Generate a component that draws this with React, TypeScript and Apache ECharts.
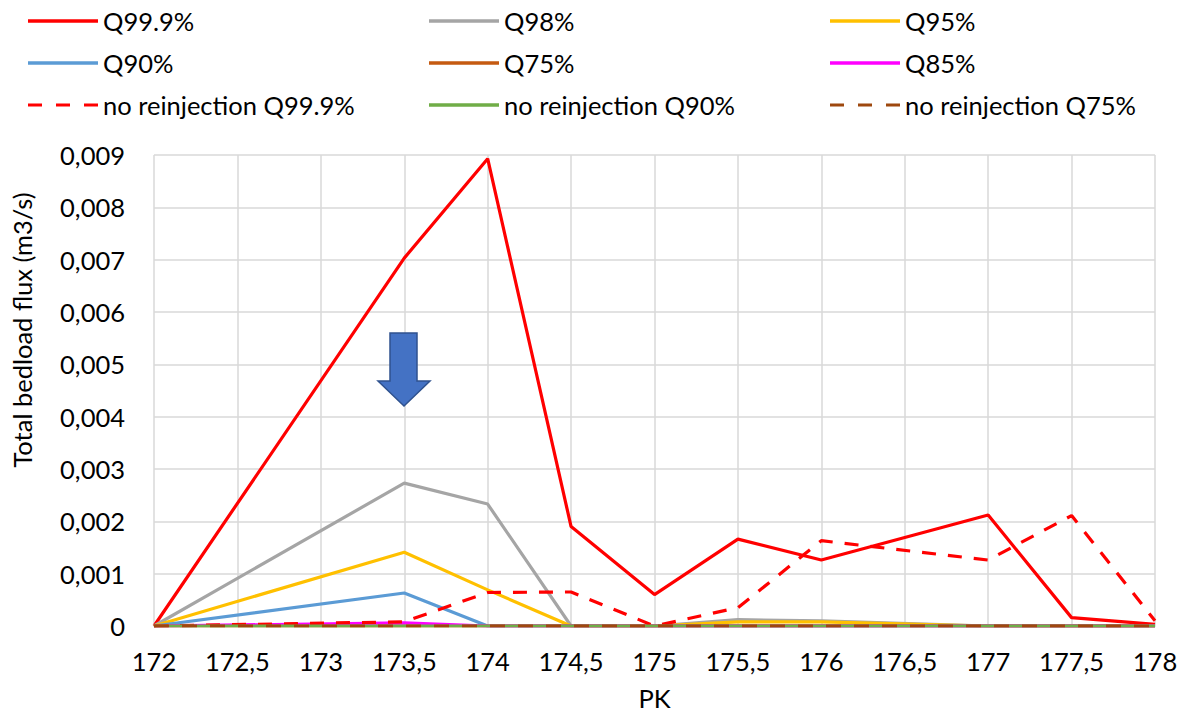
import React, { useEffect, useRef } from "react";
import * as echarts from "echarts";

const pkTicks = [172, 172.5, 173, 173.5, 174, 174.5, 175, 175.5, 176, 176.5, 177, 177.5, 178];

const q999: [number, number][] = [
  [172, 0], [173.5, 0.00703], [174, 0.00893], [174.5, 0.0019], [175, 0.0006],
  [175.5, 0.00166], [176, 0.00126], [177, 0.00212], [177.5, 0.00016], [178, 0.00003],
];
const q98: [number, number][] = [
  [172, 0], [173.5, 0.00273], [174, 0.00233], [174.5, 0], [175, 0],
  [175.5, 0.00012], [176, 0.0001], [177, 0], [177.5, 0], [178, 0],
];
const q95: [number, number][] = [
  [172, 0], [173.5, 0.00141], [174, 0.00069], [174.5, 0], [175, 0],
  [175.5, 0.00008], [176, 0.00008], [177, 0], [177.5, 0], [178, 0],
];
const q90: [number, number][] = [
  [172, 0], [173.5, 0.00063], [174, 0], [174.5, 0], [175, 0],
  [175.5, 0], [176, 0], [177, 0], [177.5, 0], [178, 0],
];
const q75: [number, number][] = [
  [172, 0], [173.5, 0], [174, 0], [174.5, 0], [175, 0],
  [175.5, 0], [176, 0], [177, 0], [177.5, 0], [178, 0],
];
const q85: [number, number][] = [
  [172, 0], [173.5, 0.00006], [174, 0], [174.5, 0], [175, 0],
  [175.5, 0], [176, 0], [177, 0], [177.5, 0], [178, 0],
];
const noQ999: [number, number][] = [
  [172, 0], [173.5, 0.00008], [174, 0.00064], [174.5, 0.00065], [175, 0],
  [175.5, 0.00035], [176, 0.00163], [177, 0.00126], [177.5, 0.00211], [178, 0.0001],
];
const noQ90: [number, number][] = [
  [172, 0], [173.5, 0], [174, 0], [174.5, 0], [175, 0],
  [175.5, 0], [176, 0], [177, 0], [177.5, 0], [178, 0],
];
const noQ75: [number, number][] = [
  [172, 0], [173.5, 0], [174, 0], [174.5, 0], [175, 0],
  [175.5, 0], [176, 0], [177, 0], [177.5, 0], [178, 0],
];

const FONT = "Lato, 'Open Sans', sans-serif";
const FS = 25.5;
const DASH_ICON = "path://M0,0h14v3h-14zM28,0h14v3h-14zM56,0h14v3h-14z";

export default function App() {
  const ref = useRef<HTMLDivElement>(null);
  useEffect(() => {
    if (!ref.current) return;
    const chart = echarts.init(ref.current, undefined, { renderer: "svg" });
    const mk = (name: string, data: [number, number][], color: string, dash?: number[]) => ({
      name,
      type: "line",
      data,
      showSymbol: false,
      symbol: "none",
      lineStyle: { color, width: 3.2, type: dash ? dash : "solid", cap: "butt" },
      itemStyle: { color },
      z: 2,
    });
    const legendCommon = {
      orient: "vertical",
      top: 8,
      padding: 0,
      itemWidth: 70,
      itemHeight: 3.5,
      itemGap: 16,
      icon: "rect",
      textStyle: { fontFamily: FONT, fontSize: FS, lineHeight: 26, color: "#000" },
    };
    chart.setOption({
      animation: false,
      textStyle: { fontFamily: FONT },
      legend: [
        {
          ...legendCommon,
          left: 28,
          data: ["Q99.9%", "Q90%", { name: "no reinjection Q99.9%", icon: DASH_ICON }],
        },
        { ...legendCommon, left: 429, data: ["Q98%", "Q75%", "no reinjection Q90%"] },
        {
          ...legendCommon,
          left: 830,
          data: ["Q95%", "Q85%", { name: "no reinjection Q75%", icon: DASH_ICON }],
        },
      ],
      grid: {
        left: 154,
        right: 28,
        top: 155,
        bottom: 89,
        containLabel: false,
        outerBoundsMode: "none",
      },
      xAxis: {
        type: "value",
        min: pkTicks[0],
        max: pkTicks[pkTicks.length - 1],
        interval: 0.5,
        name: "PK",
        nameLocation: "middle",
        nameGap: 62,
        nameTextStyle: { fontFamily: FONT, fontSize: FS, lineHeight: 20, color: "#000" },
        axisLine: { show: true, lineStyle: { color: "#bfbfbf", width: 1 } },
        axisTick: { show: false },
        axisLabel: {
          fontFamily: FONT,
          fontSize: FS,
          color: "#000",
          margin: 22,
          formatter: (v: number) => String(v).replace(".", ","),
        },
        splitLine: { show: true, lineStyle: { color: "#d9d9d9", width: 1.5 } },
      },
      yAxis: {
        type: "value",
        min: 0,
        max: 0.009,
        interval: 0.001,
        axisLine: { show: false },
        axisTick: { show: false },
        axisLabel: {
          fontFamily: FONT,
          fontSize: FS,
          color: "#000",
          margin: 29,
          formatter: (v: number) => (v === 0 ? "0" : v.toFixed(3).replace(".", ",")),
        },
        splitLine: { show: true, lineStyle: { color: "#d9d9d9", width: 1.5 } },
      },
      series: [
        mk("Q99.9%", q999, "#ff0000"),
        mk("Q98%", q98, "#a5a5a5"),
        mk("Q95%", q95, "#ffc000"),
        mk("Q90%", q90, "#5b9bd5"),
        mk("Q75%", q75, "#c55a11"),
        mk("Q85%", q85, "#ff00ff"),
        mk("no reinjection Q99.9%", noQ999, "#ff0000", [14, 12]),
        mk("no reinjection Q90%", noQ90, "#70ad47"),
        mk("no reinjection Q75%", noQ75, "#9e480e", [15, 13]),
      ],
      graphic: [
        {
          type: "text",
          x: 22,
          y: 330,
          rotation: Math.PI / 2,
          style: {
            text: "Total bedload flux (m3/s)",
            fontFamily: FONT,
            fontSize: FS,
            fill: "#000",
            align: "center",
            verticalAlign: "middle",
          },
        },
        {
          type: "polygon",
          z: 100,
          shape: {
            points: [
              [390, 333], [417, 333], [417, 381], [430, 381], [404, 406], [378, 381], [390, 381],
            ],
          },
          style: { fill: "#4472c4", stroke: "#2f528f", lineWidth: 1.5 },
        },
      ],
    });
    return () => chart.dispose();
  }, []);
  return (
    <div
      ref={ref}
      style={{ position: "absolute", left: 0, top: 0, width: 1183, height: 715, background: "#fff" }}
    />
  );
}
